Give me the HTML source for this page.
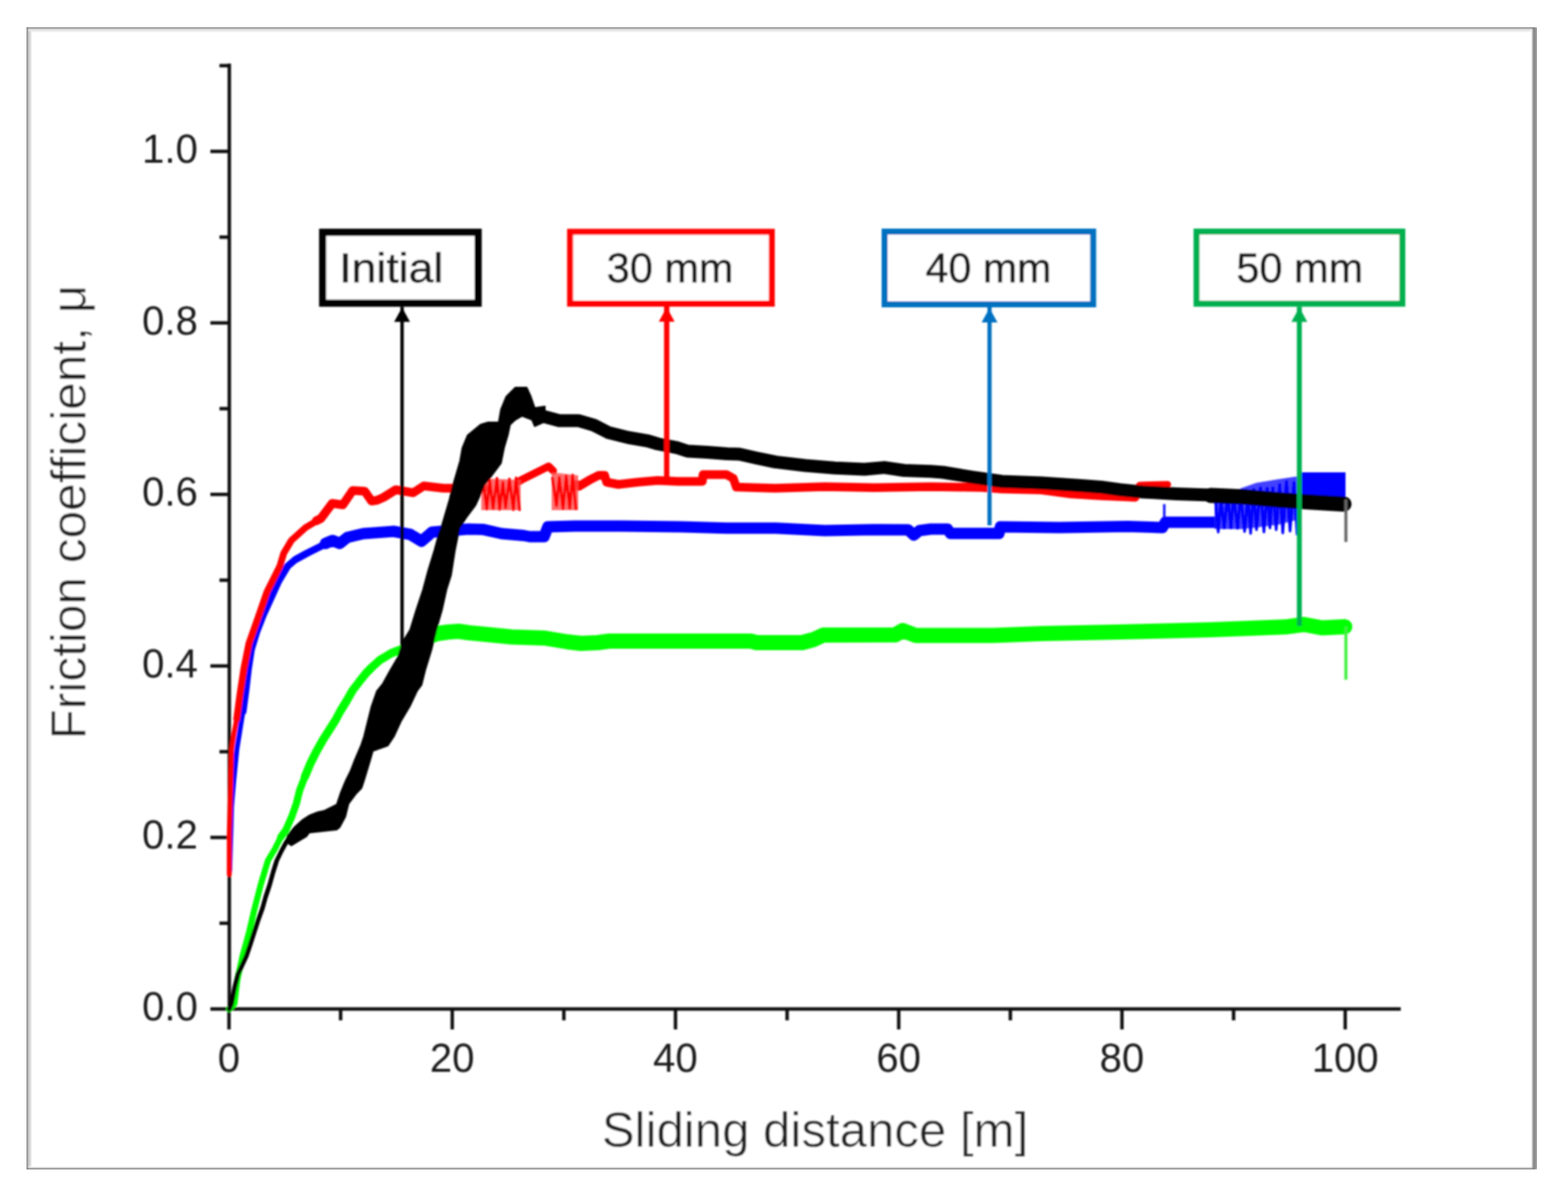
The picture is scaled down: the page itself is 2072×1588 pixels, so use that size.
<!DOCTYPE html>
<html><head><meta charset="utf-8"><title>Friction coefficient vs sliding distance</title>
<style>html,body{margin:0;padding:0;background:#fff}svg{display:block}</style></head>
<body>
<svg width="2072" height="1588" viewBox="0 0 2072 1588" font-family="'Liberation Sans', Arial, sans-serif">
<defs><filter id="soft" x="0" y="0" width="100%" height="100%"><feGaussianBlur stdDeviation="1.1"/></filter></defs>
<rect width="2072" height="1588" fill="#fff"/>
<g filter="url(#soft)">
<rect x="35" y="36" width="1992" height="1509" fill="none" stroke="#858585" stroke-width="4"/>
<line x1="39" y1="40" x2="39" y2="1541" stroke="#d2d2d2" stroke-width="4"/>
<line x1="39" y1="40" x2="2023" y2="40" stroke="#e8e8e8" stroke-width="4"/>
<line x1="2031" y1="36" x2="2031" y2="1545" stroke="#a0a0a0" stroke-width="4"/>
<g stroke="#111" stroke-width="4.5">
<line x1="303" y1="84" x2="303" y2="1335"/>
<line x1="301" y1="1333" x2="1851" y2="1333"/>
<line x1="278" y1="1333.0" x2="303" y2="1333.0"/>
<line x1="290" y1="1219.7" x2="303" y2="1219.7"/>
<line x1="278" y1="1106.4" x2="303" y2="1106.4"/>
<line x1="290" y1="993.1" x2="303" y2="993.1"/>
<line x1="278" y1="879.8" x2="303" y2="879.8"/>
<line x1="290" y1="766.5" x2="303" y2="766.5"/>
<line x1="278" y1="653.2" x2="303" y2="653.2"/>
<line x1="290" y1="539.9" x2="303" y2="539.9"/>
<line x1="278" y1="426.6" x2="303" y2="426.6"/>
<line x1="290" y1="313.3" x2="303" y2="313.3"/>
<line x1="278" y1="200.0" x2="303" y2="200.0"/>
<line x1="290" y1="86.7" x2="303" y2="86.7"/>
<line x1="302.6" y1="1333" x2="302.6" y2="1360"/>
<line x1="450.1" y1="1333" x2="450.1" y2="1348"/>
<line x1="597.6" y1="1333" x2="597.6" y2="1360"/>
<line x1="745.1" y1="1333" x2="745.1" y2="1348"/>
<line x1="892.6" y1="1333" x2="892.6" y2="1360"/>
<line x1="1040.1" y1="1333" x2="1040.1" y2="1348"/>
<line x1="1187.6" y1="1333" x2="1187.6" y2="1360"/>
<line x1="1335.1" y1="1333" x2="1335.1" y2="1348"/>
<line x1="1482.6" y1="1333" x2="1482.6" y2="1360"/>
<line x1="1630.1" y1="1333" x2="1630.1" y2="1348"/>
<line x1="1777.6" y1="1333" x2="1777.6" y2="1360"/>
</g>
<g font-size="53" fill="#1c1c1c">
<text x="261.5" y="1348.0" text-anchor="end">0.0</text>
<text x="261.5" y="1121.4" text-anchor="end">0.2</text>
<text x="261.5" y="894.8" text-anchor="end">0.4</text>
<text x="261.5" y="668.2" text-anchor="end">0.6</text>
<text x="261.5" y="441.6" text-anchor="end">0.8</text>
<text x="261.5" y="215.0" text-anchor="end">1.0</text>
<text x="302.6" y="1416" text-anchor="middle">0</text>
<text x="597.6" y="1416" text-anchor="middle">20</text>
<text x="892.6" y="1416" text-anchor="middle">40</text>
<text x="1187.6" y="1416" text-anchor="middle">60</text>
<text x="1482.6" y="1416" text-anchor="middle">80</text>
<text x="1777.6" y="1416" text-anchor="middle">100</text>
</g>
<text x="1077" y="1515" font-size="65" text-anchor="middle" fill="#1c1c1c" stroke="#fff" stroke-width="0.6">Sliding distance [m]</text>
<text transform="translate(112.5,676.6) rotate(-90)" x="0" y="0" font-size="65.5" text-anchor="middle" fill="#1c1c1c" stroke="#fff" stroke-width="0.6">Friction coefficient, μ</text>
<polyline points="303.0,1333.0 309.8,1326.0 313.5,1295.0 320.5,1263.0 329.0,1232.0 336.5,1200.0 344.5,1169.0 354.0,1137.0 363.0,1122.0 371.0,1106.0 378.0,1096.0" fill="none" stroke="#00ff00" stroke-width="8" stroke-linejoin="round" stroke-linecap="round" />
<polyline points="371.0,1106.0 378.0,1096.0 385.5,1079.0 391.5,1062.0 396.0,1044.0 403.0,1026.0 410.0,1009.0" fill="none" stroke="#00ff00" stroke-width="9.5" stroke-linejoin="round" stroke-linecap="round" />
<polyline points="403.0,1026.0 410.0,1009.0 418.0,993.0 427.0,977.0 436.0,963.0 443.0,952.0 450.0,939.0 458.0,926.0 466.0,912.0 476.0,899.0 484.0,889.0 492.0,881.0 502.0,872.0 517.0,863.0 530.0,858.0 545.0,852.0 560.0,846.0 578.0,838.0" fill="none" stroke="#00ff00" stroke-width="11" stroke-linejoin="round" stroke-linecap="round" />
<polyline points="570.0,840.0 578.0,837.0 592.0,835.0 606.0,834.0 620.0,836.0 641.0,838.0 676.0,841.5 720.0,843.0 750.0,848.0 768.0,850.0 790.0,849.0 805.0,847.0 900.0,847.0 992.0,847.0 1000.0,849.0 1060.0,849.0 1075.0,845.0 1088.0,839.0 1183.0,838.7 1193.0,833.0 1210.0,839.5 1290.0,839.5 1312.0,839.4 1378.0,837.0 1477.0,835.0 1600.0,832.0 1698.0,828.3 1723.0,825.0 1747.0,829.5 1777.0,828.0" fill="none" stroke="#00ff00" stroke-width="20" stroke-linejoin="round" stroke-linecap="round" />
<line x1="1778.5" y1="828" x2="1778.5" y2="898" stroke="#3cf03c" stroke-width="4"/>
<line x1="1538.5" y1="666" x2="1538.5" y2="692" stroke="#2020ff" stroke-width="3.5"/>
<polyline points="303.5,1150.0 305.0,1100.0 306.0,1065.0 309.0,1030.0 313.0,990.0 317.0,965.0 321.0,940.0 325.0,910.0" fill="none" stroke="#0000ff" stroke-width="6.5" stroke-linejoin="round" stroke-linecap="round" />
<polyline points="321.0,940.0 325.0,910.0 328.0,884.0 332.0,858.0 339.0,835.0 348.0,812.0 358.0,790.0 368.0,768.0 380.0,748.0 390.0,739.5 405.5,731.0 422.5,722.5 439.5,714.0" fill="none" stroke="#0000ff" stroke-width="9.5" stroke-linejoin="round" stroke-linecap="round" />
<polyline points="430.0,718.0 439.5,714.0 449.0,718.0 459.0,710.0 480.0,705.0 520.0,702.0 542.0,706.0 557.0,715.0 571.0,703.0 619.0,699.0 639.0,699.6 663.0,705.0 692.0,707.5 700.0,709.0 719.0,709.0 724.0,696.0 760.0,695.0 820.0,695.0 900.0,696.0 960.0,697.7 1025.0,697.7 1090.0,701.0 1155.0,699.7 1200.0,700.0 1207.6,707.0 1215.0,701.0 1230.0,699.0 1252.0,699.0 1256.0,704.7 1320.0,704.7 1322.0,696.0 1400.0,697.0 1490.0,695.5 1536.0,697.0 1540.0,690.0 1605.0,690.0" fill="none" stroke="#0000ff" stroke-width="15" stroke-linejoin="round" stroke-linecap="round" />
<polygon points="1605,662 1625,655 1640,645 1660,638 1690,633 1717,629 1717,686 1690,693 1660,697 1640,699 1605,699" fill="#1c1cff" opacity="0.85"/>
<polyline points="1606.0,660.3 1609.8,702.9 1613.4,660.2 1617.7,697.5 1622.2,654.0 1626.6,697.6 1630.2,655.1 1635.4,698.1 1639.3,654.4 1644.7,702.2 1649.0,654.8 1652.6,704.7 1656.7,646.2 1660.4,699.8 1665.6,644.3 1670.2,702.8 1674.5,645.0 1678.1,697.5 1682.0,644.2 1686.4,699.8 1691.0,640.1 1695.1,704.1 1700.0,636.2 1704.7,701.7 1709.9,637.6 1714.0,705.8" fill="none" stroke="#0000ff" stroke-width="3.5" stroke-linejoin="round" stroke-linecap="round" />
<rect x="1717" y="624" width="61" height="32" fill="#0000ff"/>
<polyline points="303.0,1155.0 303.0,1100.0 304.5,1049.0 306.0,990.0 309.0,970.0 312.8,950.0 317.0,918.0" fill="none" stroke="#ff0000" stroke-width="6.5" stroke-linejoin="round" stroke-linecap="round" />
<polyline points="312.8,950.0 317.0,918.0 322.2,884.0 329.0,850.0 341.0,816.0 352.8,782.0 361.3,765.0 369.8,748.0 374.9,731.0 385.0,714.0 403.8,697.0 424.0,685.0" fill="none" stroke="#ff0000" stroke-width="9" stroke-linejoin="round" stroke-linecap="round" />
<polyline points="418.0,688.0 424.0,685.0 427.0,681.0 439.0,665.0 453.0,667.0 466.0,648.0 482.0,649.0 491.0,662.0 498.0,661.0 507.0,657.0 523.0,647.0 546.0,651.0 560.0,642.0 586.0,645.0 600.0,645.0 640.0,645.0" fill="none" stroke="#ff0000" stroke-width="11.5" stroke-linejoin="round" stroke-linecap="round" />
<polyline points="686.0,636.0 689.0,634.0 725.0,616.0 731.0,622.0" fill="none" stroke="#ff0000" stroke-width="10" stroke-linejoin="round" stroke-linecap="round" />
<polyline points="762.0,640.0 765.0,642.5 778.0,634.7 791.0,628.0 799.0,628.0 801.6,637.0 817.0,640.0 843.0,637.0 869.0,634.7 895.5,636.0 928.0,636.0 929.0,627.0 960.0,627.0 969.0,632.0 973.0,643.6 1025.0,645.0 1090.0,643.0 1155.0,644.3 1230.0,643.0 1298.0,644.0 1324.0,646.0 1376.0,647.3 1415.0,652.5 1455.0,655.0 1490.0,656.5 1500.0,657.0" fill="none" stroke="#ff0000" stroke-width="11.5" stroke-linejoin="round" stroke-linecap="round" />
<polyline points="1503.0,645.0 1506.0,641.0 1543.0,640.0" fill="none" stroke="#ff0000" stroke-width="9" stroke-linejoin="round" stroke-linecap="round" />
<polygon points="636,632 688,634 688,674 636,674" fill="#ff4a4a" opacity="0.8"/>
<polygon points="729,624 764,628 764,674 729,674" fill="#ff4a4a" opacity="0.8"/>
<polyline points="638.0,632.1 643.2,672.6 647.2,635.0 651.6,671.9 656.7,631.8 660.2,673.0 664.6,637.1 668.1,670.7 673.1,632.8 678.4,673.4 682.0,631.2 686.6,673.6" fill="none" stroke="#ff0000" stroke-width="3.5" stroke-linejoin="round" stroke-linecap="round" />
<polyline points="730.0,631.6 735.4,668.3 739.1,630.7 744.0,672.0 748.2,628.8 752.9,671.5 756.7,627.4 761.0,672.3" fill="none" stroke="#ff0000" stroke-width="3.5" stroke-linejoin="round" stroke-linecap="round" />
<polyline points="303.0,1333.0 306.0,1326.0 310.0,1305.0 314.5,1287.0 320.0,1275.0 325.6,1263.0 331.0,1247.0 335.8,1232.0 341.0,1216.0 346.8,1200.0 351.0,1185.0 356.3,1169.0 361.0,1152.0 365.7,1137.0 372.0,1124.0 378.0,1113.0 384.0,1104.0" fill="none" stroke="#000000" stroke-width="6" stroke-linejoin="round" stroke-linecap="round" />
<polygon points="380.0,1104.0 389.0,1093.0 400.0,1083.0 408.5,1077.5 420.0,1073.0 429.0,1071.0 445.0,1063.0 450.0,1048.0 457.0,1031.0 463.0,1019.0 468.0,1006.0 474.0,992.0 477.0,985.0 481.0,973.0 486.0,953.0 491.0,933.0 498.0,913.0 506.0,903.0 516.0,885.0 526.0,868.0 531.0,852.0 534.0,845.0 542.0,832.0 550.0,806.0 559.0,779.0 566.0,753.0 574.0,727.0 580.0,705.0 584.0,694.0 594.0,660.0 598.0,643.0 603.0,626.0 608.0,609.0 611.0,592.0 618.0,575.0 635.0,561.0 645.0,558.0 659.0,558.0 662.0,541.0 669.0,524.0 681.0,512.0 696.0,512.0 701.5,524.0 706.6,539.0 720.0,537.0 720.0,557.0 706.6,563.0 703.0,554.6 690.0,549.5 681.0,554.6 674.0,561.0 671.0,575.0 666.0,592.0 662.0,612.0 650.0,628.0 640.0,640.0 634.0,655.0 628.0,668.0 616.0,684.0 607.0,698.0 601.0,728.0 596.0,760.0 590.0,779.0 584.0,806.0 576.5,832.0 570.0,859.0 562.0,885.0 557.0,905.0 551.0,913.0 541.6,933.0 529.7,953.0 520.5,973.0 512.5,985.0 492.7,992.0 488.7,1006.0 480.8,1032.0 477.8,1041.0 471.0,1048.0 460.5,1062.0 456.3,1079.0 448.7,1093.0 445.0,1096.0 408.5,1100.0 405.0,1105.0 385.0,1117.0 378.0,1112.0" fill="#000" stroke="#000" stroke-width="2" stroke-linejoin="round"/>
<polyline points="713.0,548.7 739.0,555.8 765.0,555.8 784.7,561.7 804.0,571.5 830.0,578.0 856.0,582.5 869.4,586.5 895.5,591.7 908.5,596.0 934.6,597.5 960.6,599.5 977.0,600.0 999.0,605.0 1025.0,610.4 1064.0,615.0 1103.0,618.2 1142.4,620.0 1168.5,617.6 1194.6,621.5 1230.0,622.8 1246.0,624.0 1285.0,630.4 1324.0,636.0 1376.0,638.0 1428.5,641.5 1454.6,643.4 1480.0,647.0 1510.0,650.0 1554.8,652.4 1599.7,653.9 1644.6,656.0 1689.5,659.8 1734.3,662.8 1776.0,665.0" fill="none" stroke="#000000" stroke-width="17" stroke-linejoin="round" stroke-linecap="round" />
<polyline points="1600.0,654.5 1644.6,656.5 1689.5,660.5 1734.3,663.5 1776.0,666.0" fill="none" stroke="#000000" stroke-width="20" stroke-linejoin="round" stroke-linecap="round" />
<line x1="1778.5" y1="660" x2="1778.5" y2="716" stroke="#666" stroke-width="4"/>
<rect x="426.4" y="306.9" width="205.4" height="93.6" fill="#fff" stroke="#000000" stroke-width="9.5"/>
<text x="517" y="373" font-size="55" text-anchor="middle" textLength="137.5" lengthAdjust="spacingAndGlyphs" fill="#1c1c1c" stroke="#1c1c1c" stroke-width="0.7">Initial</text>
<line x1="531.3" y1="405.3" x2="531.3" y2="857" stroke="#000000" stroke-width="4.5"/>
<polygon points="531.3,406.3 520.8,425.3 541.8,425.3" fill="#000000"/>
<rect x="753.4" y="306.3" width="266.4" height="94.8" fill="#fff" stroke="#ff0000" stroke-width="8"/>
<text x="885.5" y="373" font-size="55" text-anchor="middle" textLength="167.5" lengthAdjust="spacingAndGlyphs" fill="#1c1c1c" stroke="#1c1c1c" stroke-width="0.7">30 mm</text>
<line x1="881" y1="405.1" x2="881" y2="634" stroke="#ff0000" stroke-width="7"/>
<polygon points="881,406.1 870.5,425.1 891.5,425.1" fill="#ff0000"/>
<rect x="1169.0" y="306.0" width="275.5" height="96.0" fill="#fff" stroke="#0070c0" stroke-width="8"/>
<text x="1306.2" y="373" font-size="55" text-anchor="middle" textLength="166.5" lengthAdjust="spacingAndGlyphs" fill="#1c1c1c" stroke="#1c1c1c" stroke-width="0.7">40 mm</text>
<line x1="1307.6" y1="406" x2="1307.6" y2="694" stroke="#0070c0" stroke-width="5.5"/>
<polygon points="1307.6,407 1297.1,426 1318.1,426" fill="#0070c0"/>
<rect x="1581.2" y="306.0" width="271.8" height="95.2" fill="#fff" stroke="#00b050" stroke-width="8"/>
<text x="1717.6" y="373" font-size="55" text-anchor="middle" textLength="167.5" lengthAdjust="spacingAndGlyphs" fill="#1c1c1c" stroke="#1c1c1c" stroke-width="0.7">50 mm</text>
<line x1="1717" y1="405.2" x2="1717" y2="827" stroke="#00b050" stroke-width="6.5"/>
<polygon points="1717,406.2 1706.5,425.2 1727.5,425.2" fill="#00b050"/>
</g>
</svg>
</body></html>
